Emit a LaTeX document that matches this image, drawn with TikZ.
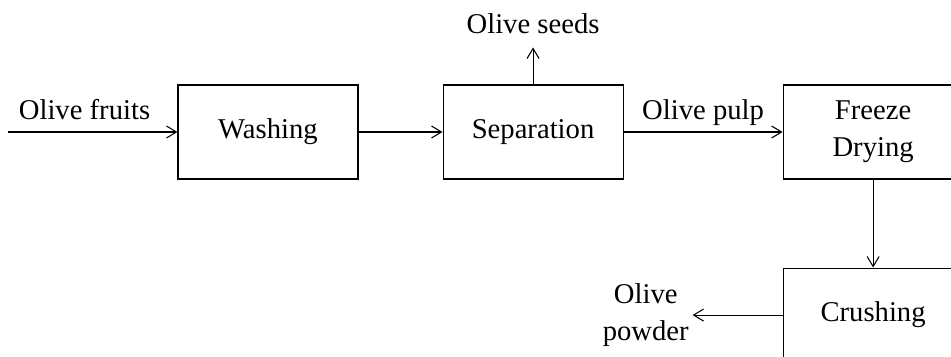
\documentclass[tikz,border=0pt]{standalone}
\usepackage{fontspec}
\setmainfont{Liberation Serif}
\usetikzlibrary{arrows.meta,positioning}

\begin{document}
\begin{tikzpicture}[font=\fontsize{16.3}{21}\selectfont, node distance=1.68cm,
    stage/.style={draw, line width=0.6pt, minimum width=3.6cm, minimum height=1.88cm, align=center, inner sep=2pt},
    flow/.style={-{Straight Barb[length=2mm, width=2.4mm]}, line width=0.6pt},
    stream/.style={align=center, inner sep=2pt}]
  \clip (0,0) rectangle (19.02,7.12);
  \node[stage] (wash) at (5.36,4.48) {Washing};
  \node[stage, right=of wash] (sep) {Separation};
  \node[stage, right=3.18cm of sep] (dry) {Freeze\\Drying};
  \node[stage, below=1.76cm of dry] (crush) {Crushing};
  \coordinate[above=0.74cm of sep] (seedsout);
  \node[stream, above=0.2cm of seedsout] (seeds) {Olive seeds};
  \node[stream, left=1.8cm of crush] (powder) {Olive\\powder};
  \coordinate[left=3.38cm of wash] (fruits);
  \draw[flow] (fruits) -- node[above=0.12cm, pos=0.45] {Olive fruits} (wash);
  \draw[flow] (wash) -- (sep);
  \draw[flow] (sep) -- (seedsout);
  \draw[flow] (sep) -- node[above] {Olive pulp} (dry);
  \draw[flow] (dry) -- (crush);
  \draw[flow] (crush) -- (powder);
\end{tikzpicture}
\end{document}
